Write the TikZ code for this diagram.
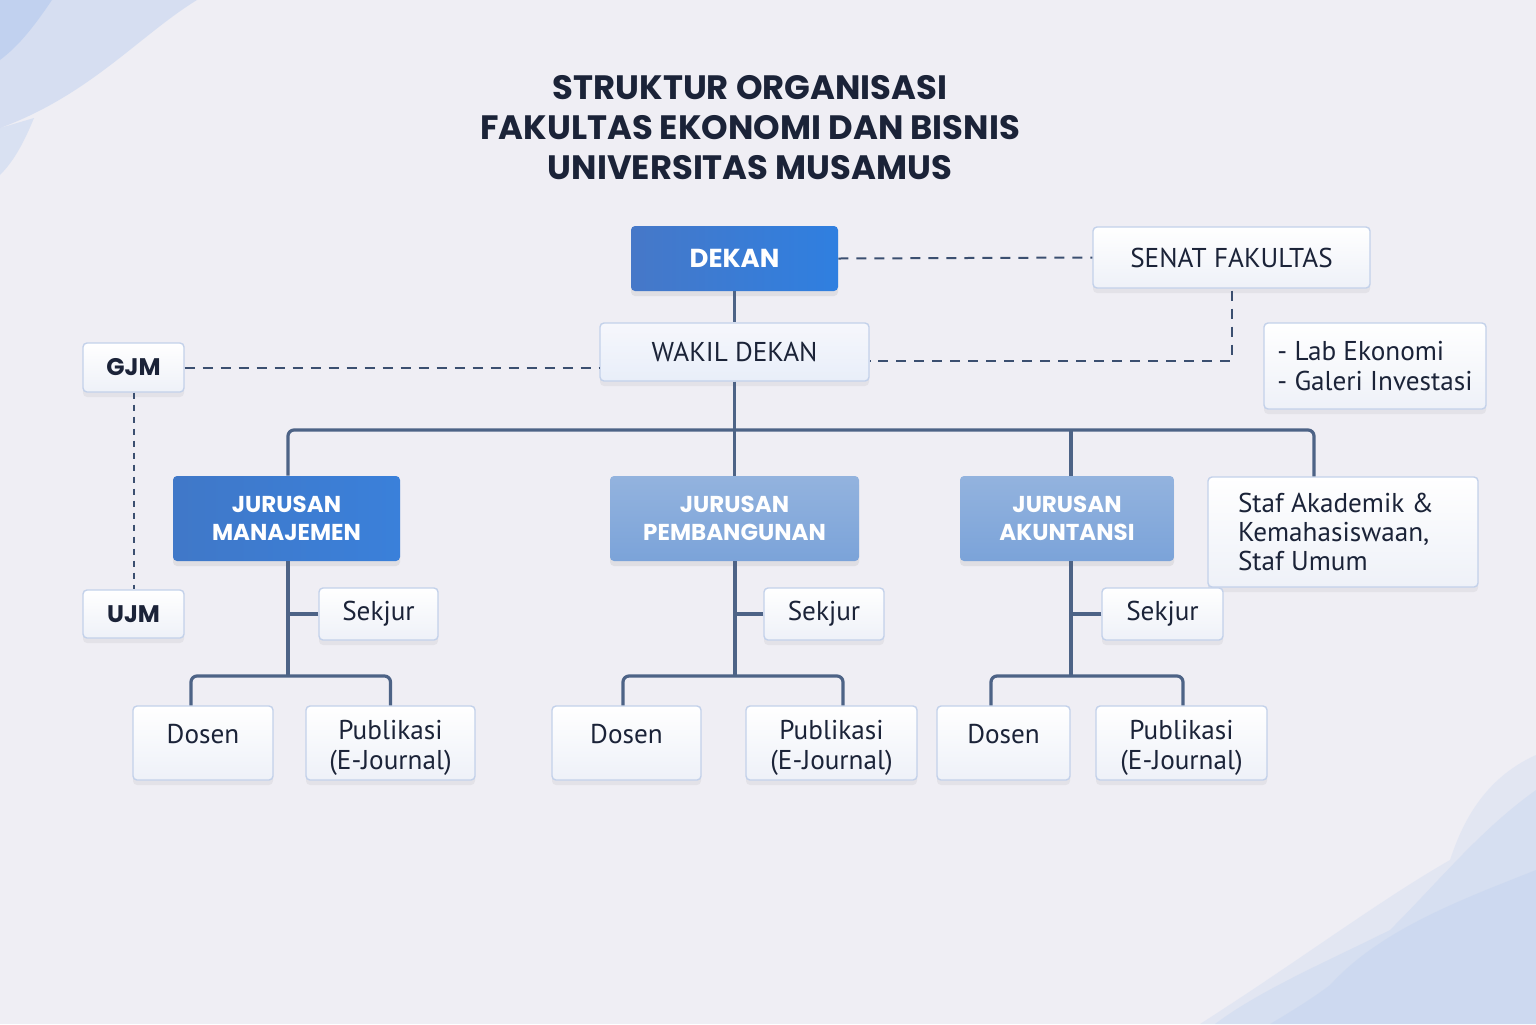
\documentclass[tikz,border=0pt]{standalone}
\usepackage{fontspec}
\setmainfont{PT Sans}
\newfontfamily\popfont{Poppins}
\usetikzlibrary{shadows,calc}
\definecolor{bg}{HTML}{EFEEF4}
\definecolor{txt}{HTML}{1B2338}
\definecolor{lin}{HTML}{4D6386}
\definecolor{dsh}{HTML}{3B4F70}
\definecolor{bord}{HTML}{C3D1EA}
\definecolor{boxb}{HTML}{EEF1F8}
\definecolor{wave}{HTML}{A9C3EE}
\definecolor{dkL}{HTML}{4678C8}
\definecolor{dkR}{HTML}{2F7FE0}
\definecolor{jmL}{HTML}{4078C8}
\definecolor{jmR}{HTML}{3A80DA}
\definecolor{ltT}{HTML}{93B3DE}
\definecolor{ltB}{HTML}{7BA3D9}
\definecolor{wkT}{HTML}{F6F7FC}
\definecolor{wkB}{HTML}{E8EEF9}
\tikzset{
  wbox/.style={draw=bord, line width=0.7pt, rounded corners=2pt, top color=white, bottom color=boxb,
    drop shadow={opacity=0.10, shadow xshift=0pt, shadow yshift=-2.5pt},
    text=txt, font=\fontsize{13.6}{15}\selectfont, align=center, inner sep=0pt},
  bbox/.style={rounded corners=2pt, drop shadow={opacity=0.14, shadow xshift=0pt, shadow yshift=-2.5pt},
    text=white, font=\popfont\bfseries\fontsize{11.5}{14}\selectfont, align=center, inner sep=0pt},
  conn/.style={draw=lin, line width=1.6pt, rounded corners=3pt},
  dashln/.style={draw=dsh, line width=1pt, dash pattern=on 5pt off 4pt},
  dotln/.style={draw=dsh, line width=1pt, dash pattern=on 3pt off 3pt},
  dosenlab/.style={label={[text=txt,font=\fontsize{13.6}{15}\selectfont,yshift=4.5pt]center:Dosen}},
  publab/.style={label={[text=txt,font=\fontsize{13.6}{15}\selectfont,align=center,yshift=-2.5pt]center:Publikasi\\(E-Journal)}},
}
\begin{document}
\begin{tikzpicture}[x=0.5pt,y=-0.5pt]
\useasboundingbox (0,0) rectangle (1536,1024);
\fill[bg] (0,0) rectangle (1536,1024);
% decorative waves top-left
\fill[wave,opacity=0.35] (0,0) -- (197,0) .. controls (140,35) and (90,95) .. (0,128) -- cycle;
\fill[wave,opacity=0.45] (0,0) -- (52,0) .. controls (35,25) and (20,45) .. (0,60) -- cycle;
\fill[wave,opacity=0.30] (0,128) -- (34,118) .. controls (25,140) and (15,160) .. (0,175) -- cycle;
% decorative waves bottom-right
\fill[wave,opacity=0.18] (1536,755) .. controls (1480,780) and (1460,830) .. (1450,860)
   .. controls (1380,900) and (1300,960) .. (1200,1024) -- (1536,1024) -- cycle;
\fill[wave,opacity=0.20] (1536,790) .. controls (1480,830) and (1440,880) .. (1390,930)
   .. controls (1330,960) and (1260,990) .. (1215,1024) -- (1536,1024) -- cycle;
\fill[wave,opacity=0.18] (1536,870) .. controls (1460,900) and (1380,930) .. (1330,985)
   .. controls (1310,1000) and (1290,1012) .. (1270,1024) -- (1536,1024) -- cycle;

% title
\node[text=txt, font=\popfont\bfseries\fontsize{16.9}{20}\selectfont, align=center] (title) at (750,128)
  {STRUKTUR ORGANISASI\\FAKULTAS EKONOMI DAN BISNIS\\UNIVERSITAS MUSAMUS};

% nodes
\node[bbox, left color=dkL, right color=dkR, minimum width=103.5pt, minimum height=32.5pt,
  font=\popfont\bfseries\fontsize{13}{14}\selectfont] (dekan) at (734.5,258.5) {DEKAN};
\node[wbox, minimum width=138.5pt, minimum height=30.5pt] (senat) at (1231.5,257.5) {SENAT FAKULTAS};
\node[wbox, top color=wkT, bottom color=wkB, minimum width=134.5pt, minimum height=29pt] (wakil) at (734.5,352) {WAKIL DEKAN};
\node[wbox, minimum width=111pt, minimum height=43pt, align=left] (lab) at (1375,366)
  {- Lab Ekonomi\\- Galeri Investasi};
\node[wbox, minimum width=50.5pt, minimum height=24.5pt, font=\popfont\bfseries\fontsize{12}{14}\selectfont] (gjm) at (133.5,367.5) {GJM};
\node[wbox, minimum width=50.5pt, minimum height=24pt, font=\popfont\bfseries\fontsize{12}{14}\selectfont] (ujm) at (133.5,614) {UJM};

\node[bbox, left color=jmL, right color=jmR, minimum width=113.5pt, minimum height=42.5pt] (jm) at (286.5,518.5) {JURUSAN\\MANAJEMEN};
\node[bbox, top color=ltT, bottom color=ltB, minimum width=124.5pt, minimum height=42.5pt] (jp) at (734.5,518.5) {JURUSAN\\PEMBANGUNAN};
\node[bbox, top color=ltT, bottom color=ltB, minimum width=107pt, minimum height=42.5pt] (ja) at (1067,518.5) {JURUSAN\\AKUNTANSI};
\node[wbox, minimum width=135pt, minimum height=55pt, text width=105pt, align=flush left, inner xsep=15pt,
  font=\fontsize{13.6}{14.5}\selectfont] (staf) at (1343,532) {Staf Akademik \&\\Kemahasiswaan,\\Staf Umum};

\node[wbox, minimum width=59.5pt, minimum height=26pt] (sekM) at (378.5,614) {Sekjur};
\node[wbox, minimum width=60pt, minimum height=26pt] (sekP) at (824,614) {Sekjur};
\node[wbox, minimum width=60.5pt, minimum height=26pt] (sekA) at (1162.5,614) {Sekjur};

\node[wbox, minimum width=70pt, minimum height=37pt, dosenlab] (dosM) at (203,743) {};
\node[wbox, minimum width=84.5pt, minimum height=37pt, publab] (pubM) at (390.5,743) {};
\node[wbox, minimum width=74.5pt, minimum height=37pt, dosenlab] (dosP) at (626.5,743) {};
\node[wbox, minimum width=85.5pt, minimum height=37pt, publab] (pubP) at (831.5,743) {};
\node[wbox, minimum width=66.5pt, minimum height=37pt, dosenlab] (dosA) at (1003.5,743) {};
\node[wbox, minimum width=85.5pt, minimum height=37pt, publab] (pubA) at (1181.5,743) {};

% coordinates
\coordinate (busR) at (1314,430);
\coordinate (busM) at (288,676);
\coordinate (busP) at (735,676);
\coordinate (busA) at (1071,676);

% solid connectors
\draw[conn] (dekan.south) -- (wakil.north);
\draw[conn] (wakil.south) -- (jp.north);
\draw[conn] (busM |- jm.north) |- (busR) -- (busR |- staf.north);
\draw[conn] (busA |- ja.north) -- (busA |- busR);

\draw[conn] (busM |- jm.south) -- (busM);
\draw[conn] (sekM.west) -- (sekM.west -| busM);
\draw[conn] ([xshift=-6pt]dosM.north) |- (busM) -| (pubM.north);

\draw[conn] (busP |- jp.south) -- (busP);
\draw[conn] (sekP.west) -- (sekP.west -| busP);
\draw[conn] ([xshift=-1.75pt]dosP.north) |- (busP) -| ([xshift=5.75pt]pubP.north);

\draw[conn] (busA |- ja.south) -- (busA);
\draw[conn] (sekA.west) -- (sekA.west -| busA);
\draw[conn] ([xshift=-6.25pt]dosA.north) |- (busA) -| ([xshift=0.75pt]pubA.north);

% dashed connectors
\draw[dashln] (dekan.east) -- (senat.west);
\draw[dashln] ([yshift=-1pt]senat.south) |- ([yshift=-4.5pt]wakil.east);
\draw[dashln] (gjm.east) -- (gjm.east -| wakil.west);
\draw[dotln] (gjm.south) -- (ujm.north);
\end{tikzpicture}
\end{document}
